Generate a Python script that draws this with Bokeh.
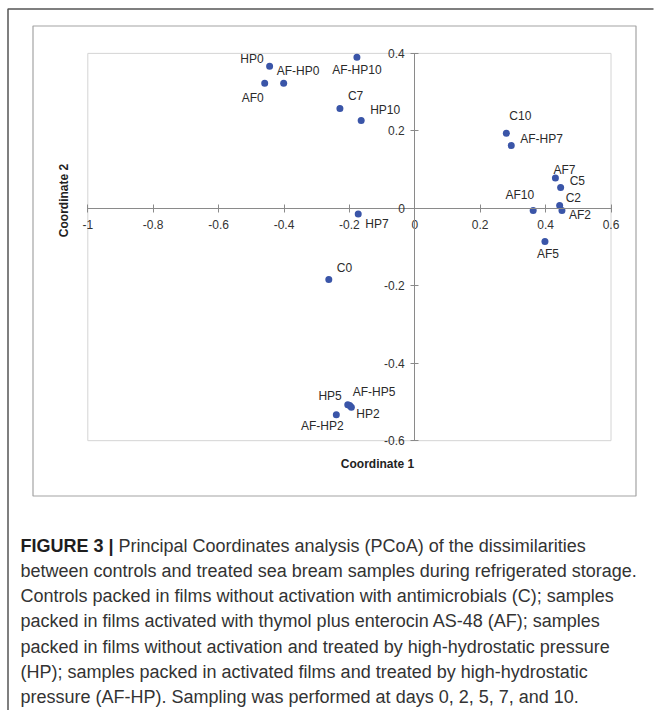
from bokeh.plotting import figure
from bokeh.models import Range1d, FixedTicker, ColumnDataSource
from bokeh.core.properties import value
from bokeh.embed import file_html
from bokeh.resources import INLINE
import math

# ---------------- data ----------------
samples = ["HP0", "AF0", "AF-HP0", "AF-HP10", "C7", "HP10", "HP7",
           "C10", "AF-HP7", "AF7", "C5", "C2", "AF2", "AF10", "AF5",
           "C0", "HP5", "AF-HP5", "HP2", "AF-HP2"]
coord1 = [-0.444, -0.459, -0.401, -0.177, -0.229, -0.164, -0.173,
          0.280, 0.295, 0.430, 0.446, 0.443, 0.450, 0.362, 0.398,
          -0.263, -0.205, -0.199, -0.194, -0.240]
coord2 = [0.367, 0.323, 0.323, 0.390, 0.258, 0.227, -0.015,
          0.194, 0.162, 0.078, 0.054, 0.007, -0.006, -0.006, -0.086,
          -0.184, -0.507, -0.509, -0.514, -0.533]

x_ticks = [-1, -0.8, -0.6, -0.4, -0.2, 0, 0.2, 0.4, 0.6]
x_tick_labels = ["-1", "-0.8", "-0.6", "-0.4", "-0.2", "0", "0.2", "0.4", "0.6"]
y_ticks = [-0.6, -0.4, -0.2, 0, 0.2, 0.4]
y_tick_labels = ["-0.6", "-0.4", "-0.2", "0", "0.2", "0.4"]

x_title = "Coordinate 1"
y_title = "Coordinate 2"

caption_bold = "FIGURE 3 |"
caption_lines = [
    "Principal Coordinates analysis (PCoA) of the dissimilarities",
    "between controls and treated sea bream samples during refrigerated storage.",
    "Controls packed in films without activation with antimicrobials (C); samples",
    "packed in films activated with thymol plus enterocin AS-48 (AF); samples",
    "packed in films without activation and treated by high-hydrostatic pressure",
    "(HP); samples packed in activated films and treated by high-hydrostatic",
    "pressure (AF-HP). Sampling was performed at days 0, 2, 5, 7, and 10.",
]

# ---------------- label layout (pixel offsets, alignment) ----------------
label_dx = [-6, -1, -7, 0, 8, 9, 7, 3, 9, -2, 9, 6, 7, 1, 3, 8, -6, 3, 5, -14]
label_dy = [-7, 15, -12, 13, -12, -10, 10, -17, -7, -8, -6, -8, 4, -16, 12, -12, -9, -13, 7, 11]
label_align = ["right", "right", "left", "center", "left", "left", "left",
               "left", "left", "left", "left", "left", "left", "right", "center",
               "left", "right", "left", "left", "center"]

# ---------------- figure ----------------
W, H = 654, 710
X0PX, XSCALE = 414.3, 327.0   # picture px of x=0, px per unit
Y0PX, YSCALE = 207.8, 387.3

def px_to_x(px):
    return (px - X0PX) / XSCALE

def px_to_y(py):
    return (Y0PX - py) / YSCALE

p = figure(width=W, height=H, output_backend="svg", toolbar_location=None,
           x_range=Range1d(px_to_x(0), px_to_x(W)),
           y_range=Range1d(px_to_y(H), px_to_y(0)),
           min_border=0, outline_line_color=None)
p.extra_x_ranges = {"px": Range1d(0, W)}
p.extra_y_ranges = {"px": Range1d(H, 0)}
p.grid.visible = False
p.background_fill_color = "white"
p.border_fill_color = "white"

FONT = value("Liberation Sans")

# page decoration lines
p.line([7.5, 7.5, 653], [H, 8.5, 8.5], x_range_name="px", y_range_name="px",
       line_color="#555555", line_width=1.5)
# chart box
p.quad(left=[32.5], right=[635.5], top=[25.5], bottom=[495.5], x_range_name="px", y_range_name="px",
       fill_color=None, line_color="#a3a3a3", line_width=1.2)
# plot area box
p.quad(left=[x_ticks[0]], right=[x_ticks[-1]], top=[y_ticks[-1]], bottom=[y_ticks[0]],
       fill_color=None, line_color="#d4d4d4", line_width=1)

# axes crossing at zero
for ax, ticks, labels, bnds, stand in ((p.xaxis[0], x_ticks, x_tick_labels, (x_ticks[0], x_ticks[-1]), 8),
                                       (p.yaxis[0], y_ticks, y_tick_labels, (y_ticks[0], y_ticks[-1]), 6)):
    ax.fixed_location = 0
    ax.bounds = bnds
    ax.ticker = FixedTicker(ticks=ticks)
    ax.major_label_overrides = {t: l for t, l in zip(ticks, labels)}
    ax.minor_tick_line_color = None
    ax.major_tick_in = 4
    ax.major_tick_out = 4
    ax.axis_line_color = "#8a8a8a"
    ax.major_tick_line_color = "#8a8a8a"
    ax.major_label_text_font = "Liberation Sans"
    ax.major_label_text_font_size = "12px"
    ax.major_label_text_color = "#333333"
    ax.major_label_standoff = stand

# points
src = ColumnDataSource(dict(x=coord1, y=coord2, name=samples, dx=label_dx, dy=label_dy, al=label_align))
p.scatter("x", "y", source=src, size=7, fill_color="#3a55a8", line_color=None)
p.text("x", "y", text="name", source=src, x_offset="dx", y_offset="dy", text_align="al",
       text_baseline="middle", text_font=FONT, text_font_size="12px", text_color="#2a2a2a")

# axis titles
p.text(x=[377], y=[463], text=[x_title], x_range_name="px", y_range_name="px",
       text_align="center", text_baseline="middle", text_font=FONT, text_font_size="12px",
       text_font_style="bold", text_color="#222222")
p.text(x=[63], y=[200], text=[y_title], x_range_name="px", y_range_name="px", angle=math.pi / 2,
       text_align="center", text_baseline="middle", text_font=FONT, text_font_size="12px",
       text_font_style="bold", text_color="#222222")

# caption
line_y = [545 + 25.3 * i for i in range(len(caption_lines))]
line_x = [118] + [20] * (len(caption_lines) - 1)
p.text(x=[20], y=[line_y[0]], text=[caption_bold], x_range_name="px", y_range_name="px",
       text_align="left", text_baseline="alphabetic", text_font=FONT, text_font_size="18px",
       text_font_style="bold", text_color="#1e1e1e")
p.text(x=line_x, y=line_y, text=caption_lines, x_range_name="px", y_range_name="px",
       text_align="left", text_baseline="alphabetic", text_font=FONT, text_font_size="18px",
       text_color="#333333")

open("out.html", "w").write(file_html(p, INLINE))
